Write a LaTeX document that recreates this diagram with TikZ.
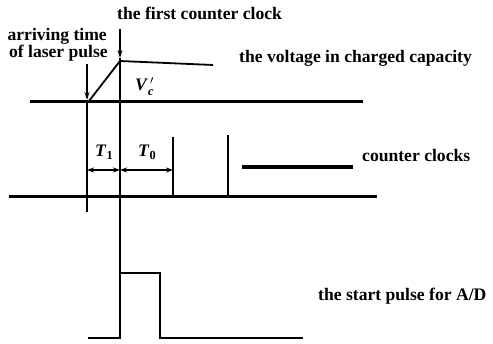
\documentclass[tikz,border=0pt]{standalone}
\usepackage{amsmath}
\usepackage{fontspec}
\setmainfont{Liberation Serif}
\usetikzlibrary{arrows.meta}
\begin{document}
\begin{tikzpicture}[x=1pt,y=-1pt,
  lbl/.style={font=\fontsize{17.6}{20}\selectfont\bfseries, inner sep=0pt},
  thickline/.style={line width=3pt},
  thinline/.style={line width=1.3pt},
  marker/.style={line width=1.3pt, -{Stealth[length=8pt,width=5pt]}},
  span/.style={line width=1.3pt, {Stealth[length=7pt,width=5pt]}-{Stealth[length=7pt,width=5pt]}}]
\useasboundingbox (0,0) rectangle (493,344);
% texts
\node[lbl, anchor=base west] (tfirst) at (117,20) {the first counter clock};
\node[lbl, anchor=base east] (tarr1) at (107,41) {arriving time};
\node[lbl, anchor=base east] (tarr2) at (108,58) {of laser pulse};
\node[lbl, anchor=base west] (tvolt) at (239,63) {the voltage in charged capacity};
\node[lbl, anchor=base west] (tclk) at (362,162) {counter clocks};
\node[lbl, anchor=base west] (tstart) at (318,301) {the start pulse for A/D};
\node[lbl, anchor=base west] (tvc) at (135,91) {\textit{V}$_{\textbf{\textit{c}}}^{\,\prime}$};
\node[lbl, anchor=base west] (tT1) at (95,157) {\textit{T}$_{\textbf{1}}$};
\node[lbl, anchor=base west] (tT0) at (138,157) {\textit{T}$_{\textbf{0}}$};
% coordinates
\coordinate (l1a) at (30,102);
\coordinate (l1b) at (363,102);
\coordinate (l2a) at (9,197);
\coordinate (l2b) at (377,197);
\coordinate (arrTop) at (87,64);
\coordinate (arrTip) at (87,100);
\coordinate (arrBot) at (87,212);
\coordinate (fcTop) at (120,29);
\coordinate (fcTip) at (120,58);
\coordinate (fcBot) at (120,273);
\coordinate (rampA) at (89,101);
\coordinate (rampB) at (120,61);
\coordinate (rampC) at (213,65);
\coordinate (c1t) at (173,137);
\coordinate (c1b) at (173,197);
\coordinate (c2t) at (228,135);
\coordinate (c2b) at (228,197);
\coordinate (bara) at (242,167);
\coordinate (barb) at (353,167);
\coordinate (t1a) at (87,170);
\coordinate (t1b) at (120,170);
\coordinate (t0b) at (173,170);
\coordinate (p0) at (88,338);
\coordinate (p1) at (120,338);
\coordinate (p2) at (160,273);
\coordinate (p3) at (160,338);
\coordinate (p4) at (303,338);
% lines
\draw[thickline] (l1a) -- (l1b);
\draw[thickline] (l2a) -- (l2b);
\draw[line width=1.8pt, line join=round] (rampA) -- (rampB) -- (rampC);
\draw[marker] (arrTop) -- (arrTip);
\draw[thinline] (arrTip) -- (arrBot);
\draw[marker, line width=1.6pt] (fcTop) -- (fcTip);
\draw[thinline, line width=1.6pt] (fcTip) -- (fcBot);
\draw[thinline] (c1t) -- (c1b);
\draw[thinline] (c2t) -- (c2b);
\draw[line width=4pt] (bara) -- (barb);
\draw[span] (t1a) -- (t1b);
\draw[span] (t1b) -- (t0b);
\draw[thinline] (p0) -- (p1) |- (p2) -- (p3) -- (p4);
\end{tikzpicture}
\end{document}
